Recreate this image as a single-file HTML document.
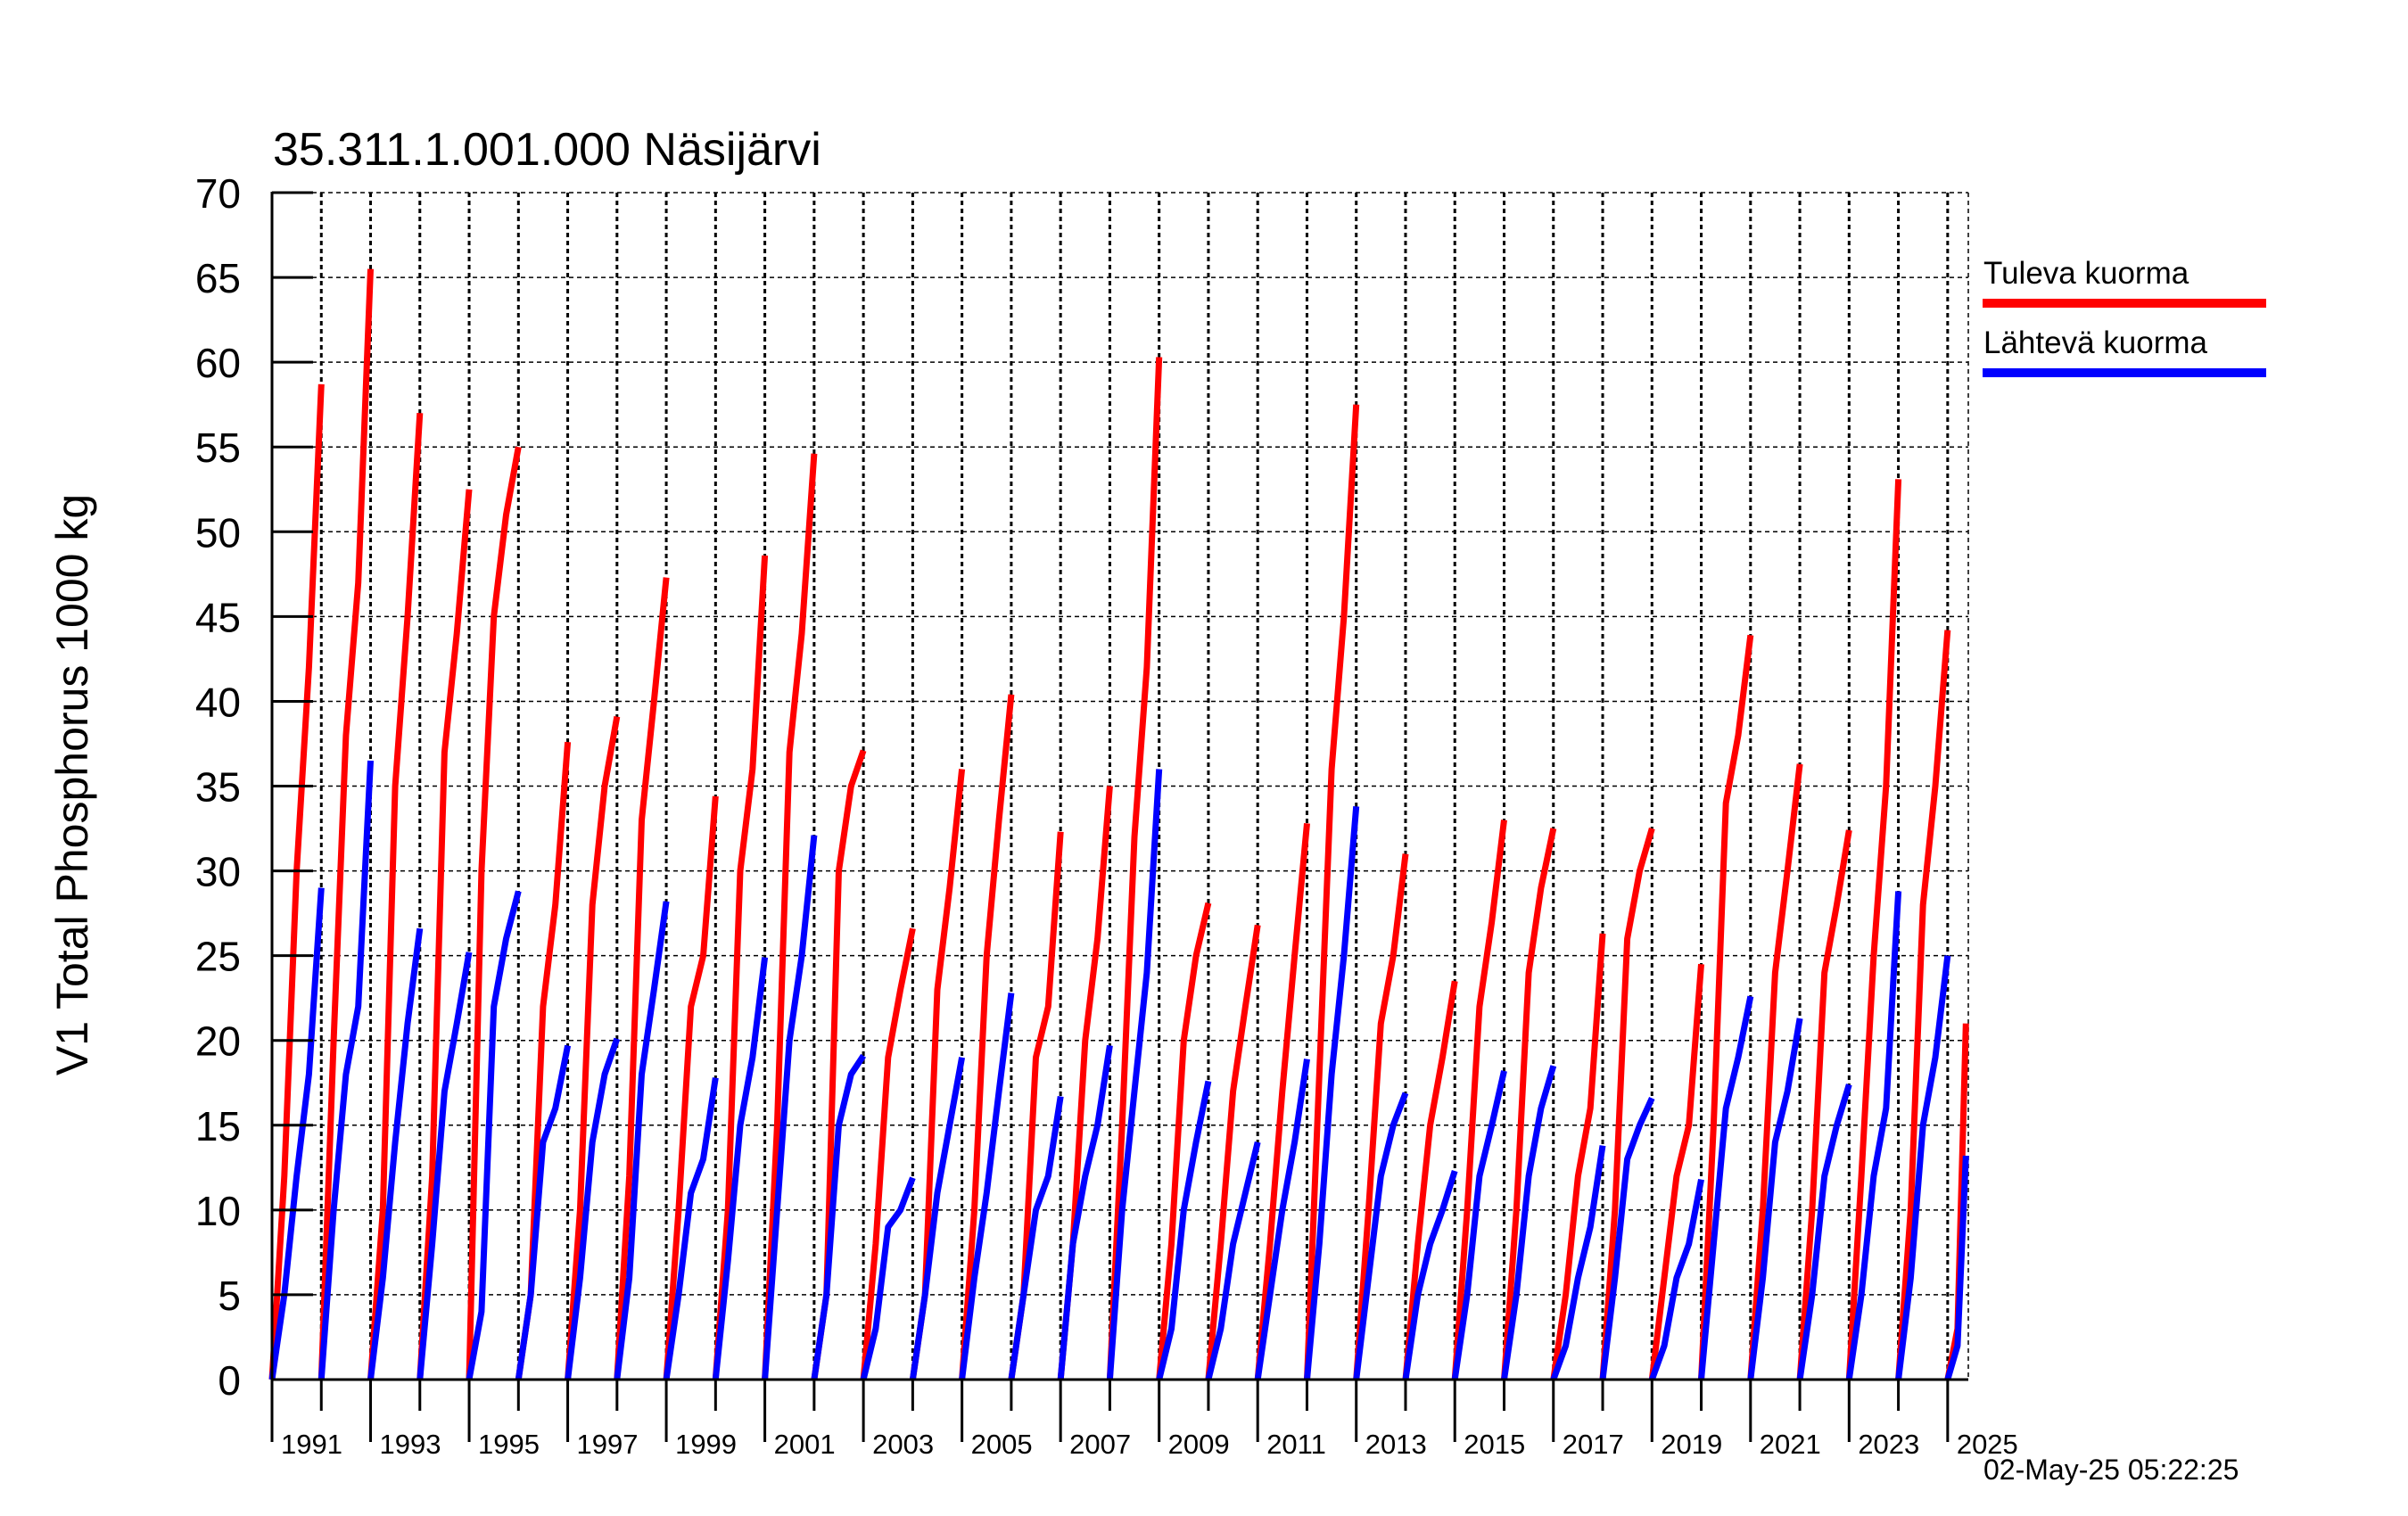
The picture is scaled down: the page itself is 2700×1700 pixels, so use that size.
<!DOCTYPE html>
<html><head><meta charset="utf-8"><style>
html,body{margin:0;padding:0;background:#fff;}
svg{display:block;font-family:"Liberation Sans",sans-serif;}
</style></head><body>
<svg id="chart" width="2700" height="1700" viewBox="0 0 2700 1700" xmlns="http://www.w3.org/2000/svg">
<rect width="2700" height="1700" fill="#fff"/>
<text x="306" y="185" font-size="52">35.311.1.001.000 Näsijärvi</text>
<text transform="translate(98,880) rotate(-90)" text-anchor="middle" font-size="50">V1 Total Phosphorus 1000 kg</text>
<g id="grid"></g>
<g id="series"></g>
<g id="axes"></g>
<g>
<text x="2224" y="318" font-size="35">Tuleva kuorma</text>
<rect x="2223" y="335" width="318" height="10" fill="#ff0000"/>
<text x="2224" y="396" font-size="35">Lähtevä kuorma</text>
<rect x="2223" y="413" width="318" height="10" fill="#0000ff"/>
</g>
<text x="2224" y="1659" font-size="32">02-May-25 05:22:25</text>
</svg>
<script>
const years = [1991,1992,1993,1994,1995,1996,1997,1998,1999,2000,2001,2002,2003,2004,2005,2006,2007,2008,2009,2010,2011,2012,2013,2014,2015,2016,2017,2018,2019,2020,2021,2022,2023,2024];
const yearFractions = [0,0.25,0.5,0.75,1];
const tulevaValues = [
[0,12,30,42,58.7],[0,20,38,47,65.5],[0,10,35,45,57],[0,12,37,44,52.5],[0,30,45,51,55],
[0,5,22,28,37.6],[0,10,28,35,39.1],[0,12,33,40,47.3],[0,10,22,25,34.4],[0,10,30,36,48.6],
[0,15,37,44,54.6],[0,5,30,35,37.1],[0,8,19,23,26.6],[0,5,23,29,36],[0,10,25,33,40.4],
[0,5,19,22,32.3],[0,8,20,26,35],[0,15,32,42,60.3],[0,8,20,25,28.1],[0,8,17,22,26.8],
[0,8,17,25,32.8],[0,18,36,45,57.5],[0,10,21,25,31],[0,8,15,19,23.5],[0,10,22,27,33],
[0,10,24,29,32.5],[0,5,12,16,26.3],[0,10,26,30,32.5],[0,6,12,15,24.5],[0,15,34,38,43.9],
[0,10,24,30,36.3],[0,10,24,28,32.4],[0,12,25,35,53.1],[0,10,28,35,44.2]];
const lahtevaValues = [
[0,5,12,18,29],[0,10,18,22,36.5],[0,6,14,21,26.6],[0,8,17,21,25.2],[0,4,22,26,28.8],
[0,5,14,16,19.7],[0,6,14,18,20.1],[0,6,18,23,28.2],[0,5,11,13,17.8],[0,7,15,19,24.9],
[0,10,20,25,32.1],[0,5,15,18,19.1],[0,3,9,10,11.9],[0,5,11,15,19],[0,6,11,17,22.8],
[0,5,10,12,16.7],[0,8,12,15,19.7],[0,10,17,24,36],[0,3,10,14,17.6],[0,3,8,11,14],
[0,5,10,14,18.9],[0,8,18,25,33.8],[0,6,12,15,16.9],[0,5,8,10,12.3],[0,5,12,15,18.2],
[0,5,12,16,18.5],[0,2,6,9,13.8],[0,6,13,15,16.6],[0,2,6,8,11.8],[0,8,16,19,22.6],
[0,6,14,17,21.3],[0,5,12,15,17.4],[0,5,12,16,28.8],[0,6,15,19,25]];
const partialYear = 2025;
const partialFractions = [0,0.2,0.37];
const partialTuleva = [0,3,21];
const partialLahteva = [0,2,13.2];
const yTicks = [0,5,10,15,20,25,30,35,40,45,50,55,60,65,70];
const xLabels = ["1991","1993","1995","1997","1999","2001","2003","2005","2007","2009","2011","2013","2015","2017","2019","2021","2023","2025"];

const NS="http://www.w3.org/2000/svg";
const X0=305, PX_PER_YEAR=55.26, Y0=1547, PX_PER_UNIT=19.014, XR=2207, YT=216;
function xs(t){return X0+(t-1991)*PX_PER_YEAR;}
function ys(v){return Y0-v*PX_PER_UNIT;}
function mk(tag,attrs,parent){const e=document.createElementNS(NS,tag);for(const k in attrs)e.setAttribute(k,attrs[k]);parent.appendChild(e);return e;}
const grid=document.getElementById('grid'), axes=document.getElementById('axes'), series=document.getElementById('series');

yTicks.forEach(v=>{
  if(v>0){const l=mk('line',{x1:X0,x2:XR,y1:ys(v),y2:ys(v),stroke:'#000','stroke-width':1.5,'stroke-dasharray':'5,4'},grid);
  
  }
  const t=mk('line',{x1:X0,x2:X0+46,y1:ys(v),y2:ys(v),stroke:'#000','stroke-width':3},axes);
  
  
  const tx=mk('text',{x:270,y:ys(v)+17,'text-anchor':'end','font-size':46},axes);
  tx.textContent=String(v);
  
  
});
const rb=mk('line',{x1:XR,x2:XR,y1:YT,y2:Y0,stroke:'#000','stroke-width':1.5,'stroke-dasharray':'5,4'},grid);


for(let yr=1992; yr<=2025; yr++){
  const g=mk('line',{x1:xs(yr),x2:xs(yr),y1:YT,y2:Y0,stroke:'#000','stroke-width':3,'stroke-dasharray':'5,4'},grid);
  
  
}
for(let yr=1991; yr<=2025; yr++){
  const long=(yr%2===1);
  const t=mk('line',{x1:xs(yr),x2:xs(yr),y1:Y0,y2:long?1617:1582,stroke:'#000','stroke-width':3},axes);
  
  
}
xLabels.forEach(lab=>{
  const t=mk('text',{x:xs(+lab)+10,y:1630,'font-size':31},axes);
  t.textContent=lab;
  
  
});
const ax1=mk('line',{x1:X0,x2:X0,y1:YT-1,y2:Y0+1,stroke:'#000','stroke-width':3},axes);


const ax2=mk('line',{x1:X0-1,x2:XR,y1:Y0,y2:Y0,stroke:'#000','stroke-width':3},axes);



function seg(yr,fr,vals,color,name){
  const pts=fr.map((f,i)=>xs(yr+f).toFixed(1)+','+ys(vals[i]).toFixed(1)).join(' ');
  const p=mk('polyline',{points:pts,fill:'none',stroke:color,'stroke-width':7,'stroke-linejoin':'round'},series);
  
  
}
years.forEach((yr,i)=>seg(yr,yearFractions,tulevaValues[i],'#ff0000','tuleva-line-'+yr));
seg(partialYear,partialFractions,partialTuleva,'#ff0000','tuleva-line-'+partialYear);
years.forEach((yr,i)=>seg(yr,yearFractions,lahtevaValues[i],'#0000ff','lahteva-line-'+yr));
seg(partialYear,partialFractions,partialLahteva,'#0000ff','lahteva-line-'+partialYear);
</script>
</body></html>
